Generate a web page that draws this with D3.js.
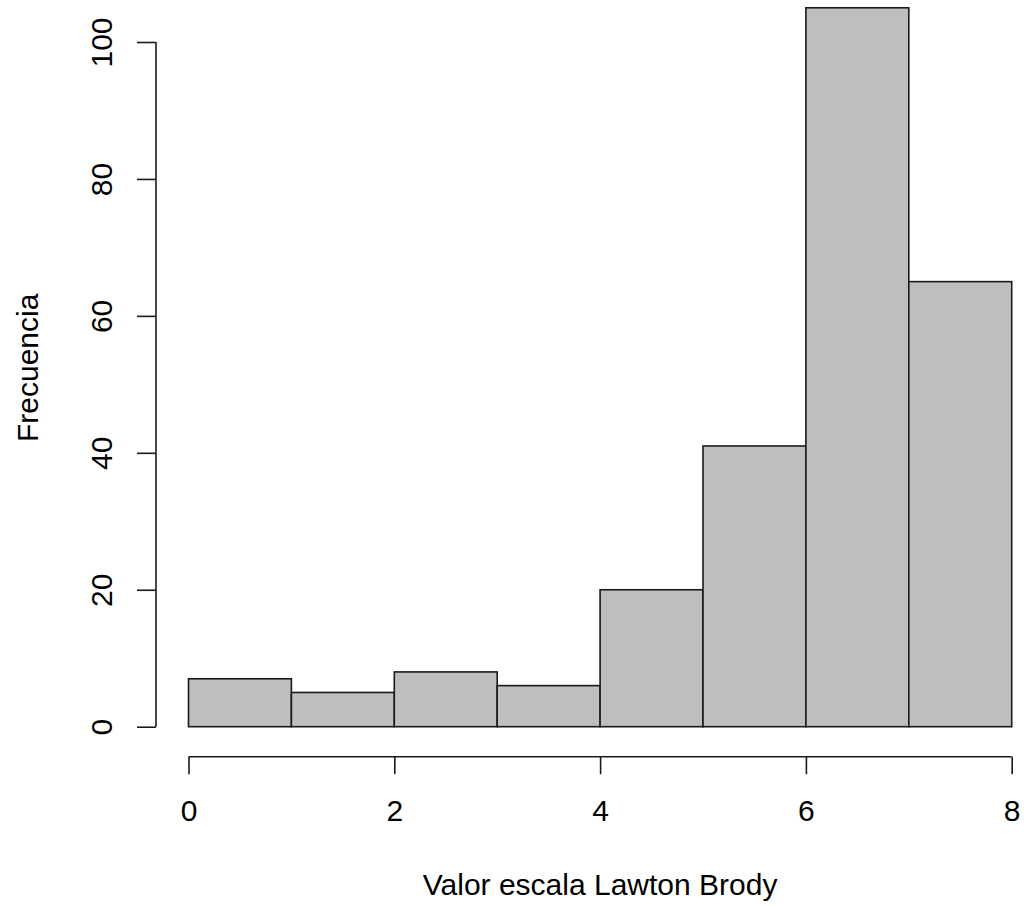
<!DOCTYPE html>
<html>
<head>
<meta charset="utf-8">
<script src="https://cdn.jsdelivr.net/npm/d3@7"></script>
<style>
  html, body { margin: 0; padding: 0; background: #fff; }
  svg { display: block; font-family: "Liberation Sans", Arial, sans-serif; }
</style>
</head>
<body>
<svg id="chart" width="1024" height="907"></svg>
<script>
// Histogram of Lawton-Brody scale scores (bins of width 1)
const binStarts = [0, 1, 2, 3, 4, 5, 6, 7];
const binEnds   = [1, 2, 3, 4, 5, 6, 7, 8];
const counts    = [7, 5, 8, 6, 20, 41, 105, 65];
const xTicks    = [0, 2, 4, 6, 8];
const yTicks    = [0, 20, 40, 60, 80, 100];
const xTitle    = "Valor escala Lawton Brody";
const yTitle    = "Frecuencia";

const svg = d3.select("#chart");
const fontSize = 30;
const ink = "#1a1a1a";

const x = d3.scaleLinear().domain([0, 8]).range([188.5, 1011.7]);
const y = d3.scaleLinear().domain([0, 100]).range([726.7, 42]);

// bars
svg.append("g")
  .selectAll("rect")
  .data(counts)
  .join("rect")
  .attr("x", (d, i) => x(binStarts[i]))
  .attr("width", (d, i) => x(binEnds[i]) - x(binStarts[i]))
  .attr("y", d => y(d))
  .attr("height", d => y(0) - y(d))
  .attr("fill", "#bebebe")
  .attr("stroke", ink)
  .attr("stroke-width", 1.6);

// x axis, set below the plotting region
const axisY = 756.7;
const gx = svg.append("g")
  .attr("transform", `translate(0,${axisY})`)
  .call(d3.axisBottom(x).tickValues(xTicks).tickSize(17.5).tickSizeOuter(0).tickFormat(d3.format("d")));
gx.select(".domain").remove();
gx.append("line")
  .attr("x1", x(xTicks[0])).attr("x2", x(xTicks[xTicks.length - 1]))
  .attr("stroke", ink).attr("stroke-width", 1.6);
gx.selectAll(".tick line").attr("stroke", ink).attr("stroke-width", 1.6);
gx.selectAll(".tick text")
  .attr("y", 64.5).attr("dy", 0)
  .attr("fill", "#000")
  .style("font-size", fontSize + "px")
  .style("font-family", "'Liberation Sans', Arial, sans-serif");

// y axis, set to the left of the plotting region
const axisX = 156;
const gy = svg.append("g")
  .attr("transform", `translate(${axisX},0)`)
  .call(d3.axisLeft(y).tickValues(yTicks).tickSize(19).tickSizeOuter(0).tickFormat(d3.format("d")));
gy.select(".domain").remove();
gy.append("line")
  .attr("y1", y(yTicks[0])).attr("y2", y(yTicks[yTicks.length - 1]))
  .attr("stroke", ink).attr("stroke-width", 1.6);
gy.selectAll(".tick line").attr("stroke", ink).attr("stroke-width", 1.6);
gy.selectAll(".tick text")
  .attr("transform", "rotate(-90)")
  .attr("x", 0).attr("y", -44).attr("dy", 0)
  .attr("text-anchor", "middle")
  .attr("fill", "#000")
  .style("font-size", fontSize + "px")
  .style("font-family", "'Liberation Sans', Arial, sans-serif");

// axis titles
svg.append("text")
  .attr("x", (x(0) + x(8)) / 2)
  .attr("y", 895)
  .attr("text-anchor", "middle")
  .style("font-size", fontSize + "px")
  .attr("fill", "#000")
  .text(xTitle);

svg.append("text")
  .attr("transform", `translate(38,${(y(0) + 5) / 2 + 2}) rotate(-90)`)
  .attr("text-anchor", "middle")
  .style("font-size", fontSize + "px")
  .attr("fill", "#000")
  .text(yTitle);
</script>
</body>
</html>
